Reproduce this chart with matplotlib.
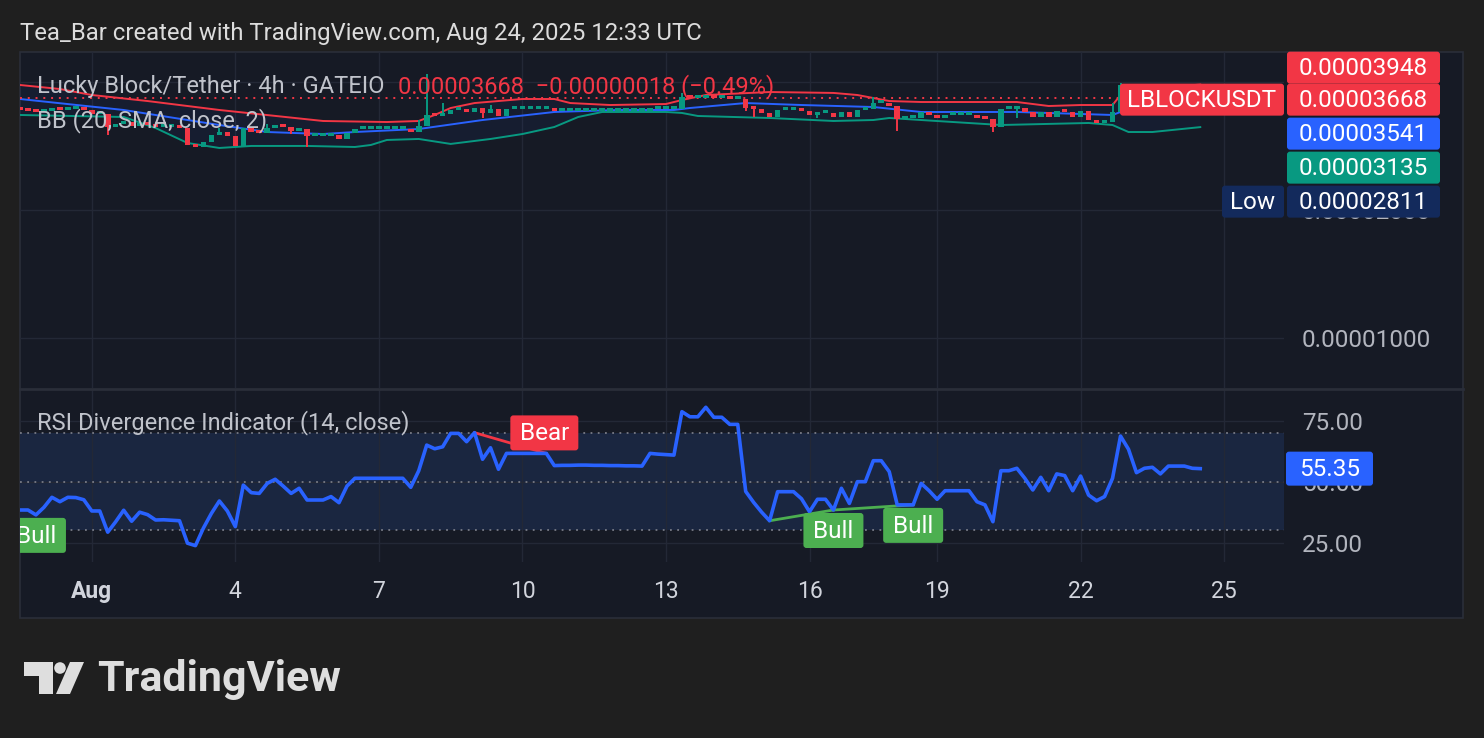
import matplotlib.pyplot as plt
import numpy as np
from matplotlib.patches import Rectangle, FancyBboxPatch, Polygon, Circle
from matplotlib.ticker import NullLocator

plt.rcParams['font.family'] = ['Roboto', 'DejaVu Sans']

W, H = 1484, 738

# LBLOCK/USDT 4h bars, bar 0 = Aug 1 00:00 (two bars missing on Aug 17/18)
# prices in 1e-8 USDT
bars = np.arange(-9, 140)
closes = [3440, 3422, 3403, 3422, 3459, 3440, 3459, 3459, 3440,
          3367, 3367, 3137, 3188, 3223, 3154, 3188, 3171, 3137, 3137,
          3137, 3120, 2846, 2820, 2893, 3004, 3053, 2988, 2831, 3120,
          3053, 3037, 3120, 3171, 3137, 3070, 3103, 2988, 2988, 2988,
          3004, 2940, 3037, 3103, 3103, 3103, 3103, 3103, 3103, 3103,
          3053, 3154, 3348, 3330, 3367, 3440, 3440, 3403, 3477, 3385,
          3459, 3330, 3459, 3459, 3459, 3459, 3459, 3459, 3422, 3422,
          3422, 3422, 3422, 3422, 3422, 3422, 3422, 3422, 3422, 3422,
          3459, 3459, 3459, 3459, 3691, 3670, 3670, 3691, 3670, 3670,
          3651, 3651, 3477, 3459, 3385, 3312, 3440, 3440, 3440, 3422,
          3348, 3385, 3385, 3312, 3403, 3312, 3440, 3459, 3572, 3572,
          3515, 3276, 3294, 3294, 3403, 3348, 3294, 3348, 3348, 3348,
          3348, 3294, 3276, 3137, 3459, 3459, 3477, 3403, 3312, 3403,
          3312, 3422, 3403, 3312, 3422, 3258, 3206, 3223, 3403, 3940,
          3833, 3651, 3691, 3711, 3651, 3711, 3711, 3711, 3686, 3668]
first_open = 3459
# wicks that stick out of the body
highs = {16: 3120, 22: 3188, 41: 3258, 42: 4180, 44: 3572, 50: 3534,
         74: 3773, 98: 3691, 128: 3572, 129: 3980}
lows = {2: 3004, 13: 2811, 25: 3020, 27: 2815, 49: 3294, 82: 3422,
        83: 3312, 91: 3294, 101: 3070, 113: 3053, 116: 3294}

# Bollinger Bands (20, SMA, close, 2)
upper_x = [-9, -4, 0, 7, 16, 29, 37, 41, 43, 45, 48, 54, 58, 60, 65, 72, 74, 77, 85, 93,
           96, 100, 104, 116, 120, 124, 128, 129, 133, 139]
upper = [3939, 3854, 3731, 3611, 3440, 3241, 3223, 3241, 3348, 3477, 3572, 3651, 3651, 3572,
         3534, 3553, 3631, 3731, 3792, 3773, 3731, 3611, 3592, 3592, 3515, 3534, 3534, 3731,
         3875, 3948]
basis_x = [-9, 4, 16, 22, 29, 33, 41, 49, 58, 66, 73, 75, 82, 89, 98, 104, 116, 128, 129, 139]
basis = [3651, 3440, 3171, 3053, 3020, 3053, 3103, 3258, 3403, 3440, 3440, 3477, 3572, 3534,
         3496, 3403, 3403, 3348, 3403, 3541]
lower_x = [-9, 4, 8, 12, 16, 20, 27, 33, 35, 37, 41, 45, 50, 54, 58, 61, 64, 72, 74, 76,
           85, 93, 98, 100, 104, 114, 125, 128, 130, 133, 139]
lower = [3348, 3312, 3120, 2877, 2800, 2831, 2831, 2815, 2846, 2924, 2940, 2862, 2940, 3020,
         3137, 3312, 3403, 3403, 3385, 3330, 3294, 3241, 3258, 3294, 3258, 3171, 3206, 3171,
         3053, 3053, 3135]
period_low = 2811

# RSI (14, close)
rsi = [38.4, 38.4, 36.4, 39.5, 43.6, 41.8, 43.6, 43.5, 42.6,
       38.0, 38.0, 29.3, 33.6, 38.3, 33.8, 37.5, 36.5, 34.3, 34.4,
       34.2, 34.0, 24.8, 23.8, 31.0, 37.0, 42.1, 38.0, 31.6, 48.6,
       45.5, 45.2, 49.3, 51.0, 48.2, 45.2, 47.3, 42.5, 42.5, 42.5,
       43.9, 41.4, 48.2, 51.4, 51.4, 51.4, 51.4, 51.4, 51.4, 51.4,
       47.7, 54.5, 65.0, 63.5, 64.3, 69.8, 69.8, 66.4, 70.1, 59.2,
       63.9, 55.1, 61.6, 61.6, 61.6, 61.6, 61.6, 61.6, 56.6, 56.7,
       56.7, 56.8, 56.8, 56.7, 56.7, 56.6, 56.6, 56.5, 56.5, 56.4,
       61.6, 61.3, 61.1, 60.9, 78.7, 76.6, 76.6, 80.5, 76.4, 76.4,
       73.5, 73.5, 46.0, 41.5, 37.5, 34.0, 45.9, 45.9, 45.9, 43.0,
       37.7, 42.8, 42.8, 38.4, 47.3, 41.1, 50.0, 50.0, 58.6, 58.6,
       54.1, 40.5, 40.5, 40.5, 49.3, 46.3, 42.8, 46.3, 46.3, 46.3,
       46.3, 41.8, 40.5, 33.6, 54.5, 54.5, 55.5, 51.4, 46.6, 51.8,
       46.3, 53.2, 52.5, 46.3, 52.3, 44.5, 42.2, 43.9, 51.4, 68.7,
       63.3, 53.7, 55.5, 55.9, 53.2, 56.4, 56.4, 56.4, 55.5, 55.35]
bear_pairs = [(48, 57)]
bull_pairs = [(85, 93), (93, 103)]
bull_edge = [-7]

day_ticks = [0, 18, 36, 54, 72, 90, 106, 124, 142]
day_labels = ['Aug', '4', '7', '10', '13', '16', '19', '22', '25']

BG = '#1f1f1f'
PANEL = '#161a25'
GRID = '#232836'
RED = '#f23645'
GREEN = '#089981'
BLUE = '#2962ff'
NAVY = '#132a5c'
LGREEN = '#4caf50'
TXT = '#d1d4dc'
GREY = '#b2b5be'
HEAD = '#c0c3cb'

c = np.array(closes) * 1e-8
o = np.r_[first_open, closes[:-1]] * 1e-8
hi = np.maximum(o, c)
lo = np.minimum(o, c)
wick_hi = np.array([highs.get(b, 0) * 1e-8 for b in bars])
wick_lo = np.array([lows.get(b, 1e9) * 1e-8 for b in bars])
wick_hi = np.maximum(hi, wick_hi)
wick_lo = np.minimum(lo, wick_lo)
up = c >= o
cols = np.where(up, GREEN, RED)

fig = plt.figure(figsize=(W / 100, H / 100), dpi=100)
fig.patch.set_facecolor(BG)

bg = fig.add_axes([0, 0, 1, 1], zorder=-1)
bg.set_xlim(0, W)
bg.set_ylim(H, 0)
bg.axis('off')
bg.add_patch(Rectangle((20, 52), 1443, 566, fc=PANEL, ec='#2a2e39', lw=1.2))

ax_p = fig.add_axes([20 / W, 1 - 388 / H, 1264 / W, 336 / H], facecolor='none')
ax_r = fig.add_axes([20 / W, 1 - 562 / H, 1264 / W, 172 / H], facecolor='none')

for ax in (ax_p, ax_r):
    ax.set_xlim(-9, 149.5)
    for s in ax.spines.values():
        s.set_visible(False)
    ax.set_xticks(day_ticks)
    ax.grid(True, color=GRID, lw=1)
    ax.set_axisbelow(True)
    ax.yaxis.tick_right()
    ax.tick_params(axis='both', length=0, labelsize=17.5, labelcolor=GREY, pad=13)

# price pane
ax_p.set_yscale('log')
ax_p.set_ylim(7.626e-6, 4.71e-5)
ax_p.yaxis.set_minor_locator(NullLocator())
ax_p.set_yticks([1e-5, 2e-5, 4e-5])
# the 0.00004000 label sits fully behind the value tags, so leave it blank
ax_p.set_yticklabels(['0.00001000', '0.00002000', ''])
ax_p.set_xticklabels([])

ax_p.fill(np.r_[upper_x, lower_x[::-1]], np.r_[upper, lower[::-1]] * 1e-8,
          color=BLUE, alpha=0.05, lw=0, zorder=1)
ax_p.plot(upper_x, np.array(upper) * 1e-8, color=RED, lw=1.4, zorder=2)
ax_p.plot(basis_x, np.array(basis) * 1e-8, color=BLUE, lw=1.4, zorder=2)
ax_p.plot(lower_x, np.array(lower) * 1e-8, color=GREEN, lw=1.4, zorder=2)
ax_p.axhline(c[-1], color=RED, lw=1.4, ls=(0, (1, 3)), zorder=2)

ax_p.vlines(bars, wick_lo, wick_hi, colors=cols, lw=1.4, zorder=3)
body_h = np.maximum(hi - lo, lo * 0.014)
ax_p.bar(bars, body_h, bottom=lo, width=0.7, color=cols, zorder=4)

# RSI pane
ax_r.set_ylim(17.09, 87.58)
ax_r.set_yticks([25, 50, 75])
ax_r.set_yticklabels(['25.00', '50.00', '75.00'])
ax_r.set_xticklabels(day_labels)
ax_r.tick_params(axis='x', labelcolor=TXT, labelsize=16.5)
ax_r.get_xticklabels()[0].set_fontweight('bold')
ax_r.axhspan(30, 70, color='#1a2640', zorder=0.5, lw=0)
for lvl in (70, 50, 30):
    ax_r.axhline(lvl, color='#787b86', lw=1.3, ls=(0, (1, 3)), zorder=1)
ax_r.plot(bars, rsi, color=BLUE, lw=2.6, solid_joinstyle='round', zorder=3)

rsi_at = dict(zip(bars, rsi))
for a, b in bear_pairs:
    ax_r.plot([a, b], [rsi_at[a], rsi_at[b]], color=RED, lw=2, zorder=2)
for a, b in bull_pairs:
    ax_r.plot([a, b], [rsi_at[a], rsi_at[b]], color=LGREEN, lw=2, zorder=2)

# overlay in pixel coordinates for the labels
ov = fig.add_axes([0, 0, 1, 1], zorder=10)
ov.set_xlim(0, W)
ov.set_ylim(H, 0)
ov.axis('off')
ov.patch.set_alpha(0)


def px(ax, x, y):
    X, Y = ax.transData.transform((x, y))
    return X, H - Y


def label_box(x0, yc, w, h, fc, text, fs=17.5, clip=None):
    p = FancyBboxPatch((x0, yc - h / 2), w, h, boxstyle='round,pad=0,rounding_size=3',
                       fc=fc, ec='none')
    ov.add_patch(p)
    t = ov.text(x0 + w / 2, yc + 1, text, color='white', fontsize=fs,
                ha='center', va='center')
    if clip is not None:
        p.set_clip_path(None)
        p.set_clip_box(clip.bbox)
        t.set_clip_on(True)
        t.set_clip_box(clip.bbox)


# header texts
ov.text(20, 33.5, 'Tea_Bar created with TradingView.com, Aug 24, 2025 12:33 UTC',
        color='#dcdcdc', fontsize=17.2, va='center')
ov.text(37, 87, 'Lucky Block/Tether · 4h · GATEIO', color=HEAD, fontsize=17, va='center')
chg = closes[-1] - closes[-2]
ov.text(398, 87, f'{closes[-1] * 1e-8:.8f}  \u2212{abs(chg) * 1e-8:.8f} '
                 f'(\u2212{abs(chg) / closes[-2] * 100:.2f}%)',
        color=RED, fontsize=17, va='center')
ov.text(37, 121, 'BB (20, SMA, close, 2)', color=HEAD, fontsize=17, va='center')
ov.text(37, 423, 'RSI Divergence Indicator (14, close)', color=HEAD, fontsize=17,
        va='center')

# price scale labels, stacked like the platform does
scale_vals = [upper[-1], closes[-1], basis[-1], lower[-1], period_low]
scale_cols = [RED, RED, BLUE, GREEN, NAVY]
ys = [px(ax_p, 0, v * 1e-8)[1] + 1.5 for v in scale_vals]
anchor = 1
for i in range(anchor - 1, -1, -1):
    ys[i] = min(ys[i], ys[i + 1] - 32)
for i in range(anchor + 1, len(ys)):
    ys[i] = max(ys[i], ys[i - 1] + 34)
for v, col, y in zip(scale_vals, scale_cols, ys):
    label_box(1287, y, 153, 32, col, f'{v * 1e-8:.8f}')
label_box(1120, ys[1], 164, 32, RED, 'LBLOCKUSDT')
label_box(1222, ys[4], 62, 32, NAVY, 'Low')

# rsi value label
_, yr = px(ax_r, bars[-1], rsi[-1])
label_box(1286, yr, 87, 34, BLUE, f'{rsi[-1]:.2f}')

# divergence labels
for a, b in bear_pairs:
    xb, yb = px(ax_r, b, rsi_at[b])
    label_box(xb - 36, yb - 3 - 17.5, 68, 35, RED, 'Bear')
for a, b in bull_pairs:
    xb, yb = px(ax_r, b, rsi_at[b])
    label_box(xb - 30, yb + 3 + 17.5, 60, 35, LGREEN, 'Bull')
for b in bull_edge:
    xb, yb = px(ax_r, b, rsi_at[b])
    label_box(xb - 30, yb + 3 + 17.5, 60, 35, LGREEN, 'Bull', clip=ax_r)

# pane separator
ov.plot([20, 1463], [389, 389], color='#2a2e39', lw=2)

# TradingView logo
logo = '#dedede'
ov.add_patch(Polygon([(24, 662), (53, 662), (53, 694), (39, 694), (39, 676), (24, 676)],
                     closed=True, fc=logo, ec='none'))
ov.add_patch(Circle((60, 668), 5.8, fc=logo, ec='none'))
ov.add_patch(Polygon([(70, 662), (84, 662), (70, 694), (56, 694)], closed=True, fc=logo,
                     ec='none'))
ov.text(97, 679, 'TradingView', color=logo, fontsize=31, fontweight='bold', va='center')

fig.savefig('out.png', dpi=100, facecolor=BG)
